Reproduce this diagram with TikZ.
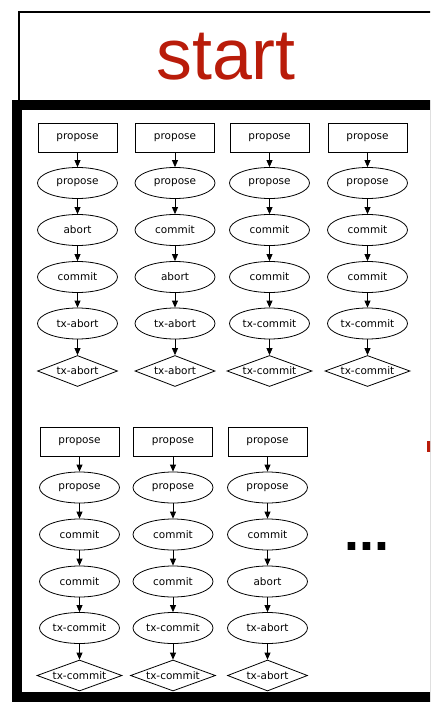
\documentclass[tikz,border=0pt]{standalone}
\usepackage{fontspec}
\setmainfont{DejaVu Sans}
\newfontfamily\startfont{Liberation Sans}
\usetikzlibrary{shapes.geometric,arrows.meta}
\definecolor{startred}{RGB}{185,28,10}
\tikzset{
  nodetext/.style={font=\fontsize{10.5}{12}\selectfont, inner sep=0pt, line width=0.8bp},
  rbox/.style={nodetext, draw, rectangle, minimum width=79bp, minimum height=29bp},
  oval/.style={nodetext, draw, ellipse, minimum width=80bp, minimum height=31bp},
  dmd/.style={nodetext, draw, diamond, aspect=2.6, minimum height=31bp},
  arr/.style={line width=0.8bp, -{Triangle[length=7bp,width=6bp]}},
}
\begin{document}
\begin{tikzpicture}[x=1bp,y=-1bp]
\useasboundingbox (0,0) rectangle (430,702);
\begin{scope}
\clip (0,0) rectangle (430,702);
\draw[line width=1.2bp] (19,101) -- (19,12) -- (440,12);
\draw[line width=10bp] (17,105) rectangle (435,697);
\fill[startred] (427,441) rectangle (431,452);
\end{scope}
\node[anchor=base, text=startred, font=\startfont\fontsize{72}{80}\selectfont, inner sep=0pt] (start) at (226,80) {start};
\foreach \n/\x/\y/\la/\lb/\lc/\dw in {
  a/77.5/137.5/abort/commit/tx-abort/80,
  b/175/137.5/commit/abort/tx-abort/80,
  c/269.5/137.5/commit/commit/tx-commit/85,
  d/367.5/137.5/commit/commit/tx-commit/85,
  e/79.5/442/commit/commit/tx-commit/85,
  f/173/442/commit/commit/tx-commit/85,
  g/267.5/442/commit/abort/tx-abort/80}
{
  \node[rbox] (\n0) at (\x,\y) {propose};
  \node[oval] (\n1) at (\x,{\y+45.5}) {propose};
  \node[oval] (\n2) at (\x,{\y+92.5}) {\la};
  \node[oval] (\n3) at (\x,{\y+139.5}) {\lb};
  \node[oval] (\n4) at (\x,{\y+186}) {\lc};
  \node[dmd, minimum width=\dw bp] (\n5) at (\x,{\y+233.5}) {\lc};
  \draw[arr] (\n0) -- (\n1);
  \draw[arr] (\n1) -- (\n2);
  \draw[arr] (\n2) -- (\n3);
  \draw[arr] (\n3) -- (\n4);
  \draw[arr] (\n4) -- (\n5);
}
\node[anchor=base, font=\startfont\bfseries\fontsize{54}{60}\selectfont, inner sep=0pt] (more) at (367,550) {...};
\end{tikzpicture}
\end{document}
